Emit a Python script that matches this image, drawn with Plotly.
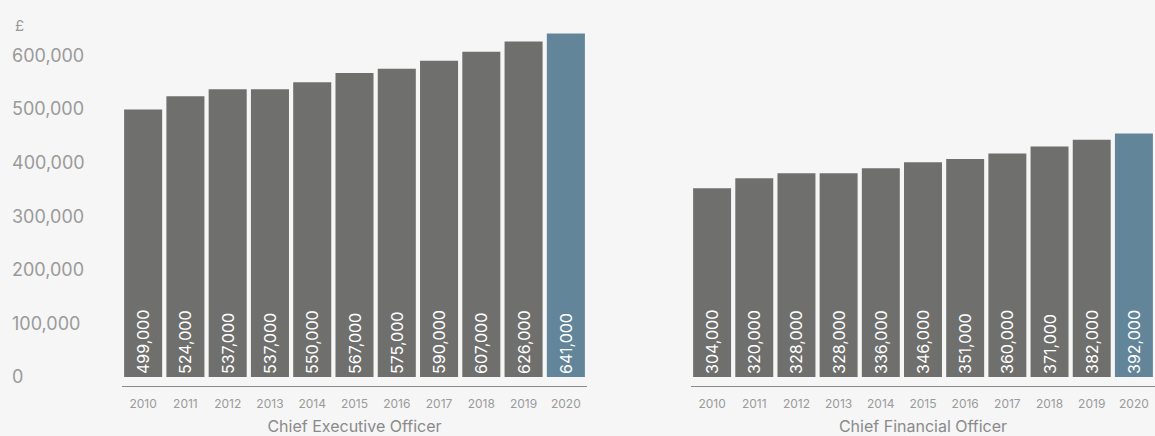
import plotly.graph_objects as go

years = ["2010", "2011", "2012", "2013", "2014", "2015", "2016", "2017", "2018", "2019", "2020"]
ceo_pay = [499000, 524000, 537000, 537000, 550000, 567000, 575000, 590000, 607000, 626000, 641000]
cfo_pay = [304000, 320000, 328000, 328000, 336000, 346000, 351000, 360000, 371000, 382000, 392000]
panel_titles = ["Chief Executive Officer", "Chief Financial Officer"]
currency_label = "£"

W, H = 1155, 436
GREY = "#6f6f6d"
BLUE = "#628599"
BG = "#f6f6f6"
FONT = "Inter"

def colors(n):
    return [GREY] * (n - 1) + [BLUE]

def labels(vals):
    return [f"{v:,}" for v in vals]

fig = go.Figure()
for vals, xa, ya in [(ceo_pay, "x", "y"), (cfo_pay, "x2", "y2")]:
    fig.add_trace(go.Bar(
        x=years, y=vals, xaxis=xa, yaxis=ya,
        marker=dict(color=colors(len(years)), line=dict(width=0)),
        text=labels(vals), textposition="inside", insidetextanchor="start",
        textangle=-90, textfont=dict(color="white", size=16, family=FONT),
        hoverinfo="x+y", showlegend=False,
    ))

y_top_px, y_bot_px = 20, 386
ydom = [(H - y_bot_px) / H, (H - y_top_px) / H]
plot_h = y_bot_px - y_top_px
zero_off = 9  # px between zero line and axis line

def yrange(px_per_100k):
    ppu = px_per_100k / 100000
    lo = -zero_off / ppu
    return [lo, lo + plot_h / ppu]

xcommon = dict(
    type="category", showline=True, linecolor="#8a8a8a", linewidth=1,
    showgrid=False, zeroline=False, ticks="outside", ticklen=7,
    tickcolor="rgba(0,0,0,0)", tickfont=dict(size=12, color="#9a9a9a", family=FONT),
    range=[-0.5, 10.5], fixedrange=True,
)

fig.update_layout(
    width=W, height=H,
    margin=dict(l=0, r=0, t=0, b=0),
    paper_bgcolor=BG, plot_bgcolor=BG,
    bargap=0.1,
    font=dict(family=FONT),
    xaxis=dict(xcommon, domain=[122 / W, 587 / W], anchor="y",
               title=dict(text=panel_titles[0], standoff=11,
                          font=dict(size=16, color="#8a8a8a", family=FONT))),
    xaxis2=dict(xcommon, domain=[691 / W, 1.0], anchor="y2",
                title=dict(text=panel_titles[1], standoff=11,
                           font=dict(size=16, color="#8a8a8a", family=FONT))),
    yaxis=dict(domain=ydom, range=yrange(53.6), anchor="free", position=11 / W,
               side="right", showgrid=False, zeroline=False, showline=False,
               ticks="", dtick=100000, tick0=0, tickformat=",d",
               tickfont=dict(size=18, color="#9a9a9a", family=FONT), fixedrange=True),
    yaxis2=dict(domain=ydom, range=yrange(62.1), anchor="x2", visible=False,
                fixedrange=True),
    annotations=[dict(text=currency_label, x=13 / W, y=(H - 25) / H, xref="paper", yref="paper",
                      xanchor="left", yanchor="middle", showarrow=False,
                      font=dict(size=15, color="#9a9a9a", family=FONT))],
)

fig.write_html("out.html", config={"displayModeBar": False},
               post_script="document.body.style.margin='0px';document.body.style.overflow='hidden';")
